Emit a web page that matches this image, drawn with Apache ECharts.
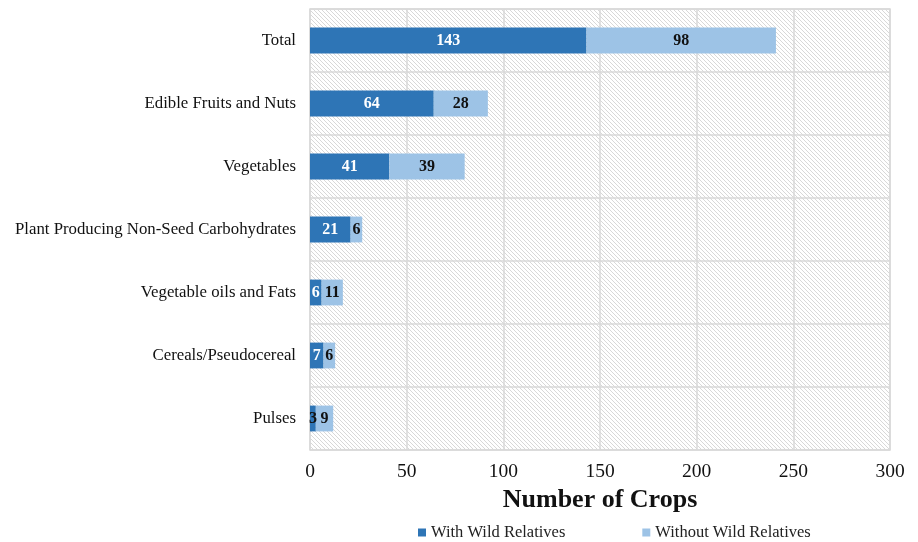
<!DOCTYPE html>
<html><head><meta charset="utf-8">
<script src="https://cdn.jsdelivr.net/npm/echarts@6/dist/echarts.min.js"></script>
<style>html,body{margin:0;padding:0;background:#fff}#c{width:918px;height:542px}</style>
</head><body><div id="c"></div>
<script>
const categories = ["Total","Edible Fruits and Nuts","Vegetables","Plant Producing Non-Seed Carbohydrates","Vegetable oils and Fats","Cereals/Pseudocereal","Pulses"];
const withWild = [143,64,41,21,6,7,3];
const withoutWild = [98,28,39,6,11,6,9];
const seriesNames = ["With Wild Relatives","Without Wild Relatives"];

const pc = document.createElement('canvas');
pc.width = 4; pc.height = 4;
const g = pc.getContext('2d');
g.fillStyle = '#ffffff'; g.fillRect(0,0,4,4);
g.strokeStyle = '#d8d8d8'; g.lineWidth = 1;
g.beginPath(); g.moveTo(-1,-1); g.lineTo(5,5); g.stroke();
g.beginPath(); g.moveTo(-1,3); g.lineTo(1,5); g.stroke();
g.beginPath(); g.moveTo(3,-1); g.lineTo(5,1); g.stroke();

const chart = echarts.init(document.getElementById('c'), null, {renderer:'canvas'});
const font = '"Liberation Serif","Times New Roman",serif';
const withData = withWild.map((v,i)=> i===6 ? {value:v,label:{color:'#111'}} : v);
chart.setOption({
  animation:false,
  textStyle:{fontFamily:font},
  grid:{left:310,right:28,top:9,bottom:92,show:true,backgroundColor:{image:pc,repeat:'repeat'},borderColor:'#d9d9d9',borderWidth:1.5},
  legend:{top:519,left:413,itemWidth:8,itemHeight:8,itemGap:77,icon:'rect',
    textStyle:{fontFamily:font,fontSize:16.5,color:'#222'},data:seriesNames},
  xAxis:{type:'value',min:0,max:300,interval:50,
    name:'Number of Crops',nameLocation:'middle',nameGap:36,
    nameTextStyle:{fontFamily:font,fontSize:26,fontWeight:'bold',color:'#111'},
    axisLine:{show:false},axisTick:{show:false},
    axisLabel:{fontFamily:font,fontSize:19.5,color:'#111',margin:12},
    splitLine:{show:true,lineStyle:{color:'#d9d9d9',width:1.5}}},
  yAxis:{type:'category',data:categories,inverse:true,
    axisLine:{show:false},axisTick:{show:false},
    axisLabel:{fontFamily:font,fontSize:16.8,color:'#111',margin:14},
    splitLine:{show:true,lineStyle:{color:'#d9d9d9',width:1.5}}},
  series:[
    {name:seriesNames[0],type:'bar',stack:'a',data:withData,barWidth:'41%',
     itemStyle:{color:'#2E75B6'},
     label:{show:true,position:'inside',fontFamily:font,fontSize:16,fontWeight:'bold',color:'#fff'}},
    {name:seriesNames[1],type:'bar',stack:'a',data:withoutWild,barWidth:'41%',
     itemStyle:{color:'#9DC3E6'},
     label:{show:true,position:'inside',fontFamily:font,fontSize:16,fontWeight:'bold',color:'#111'}}
  ]
});
</script></body></html>
